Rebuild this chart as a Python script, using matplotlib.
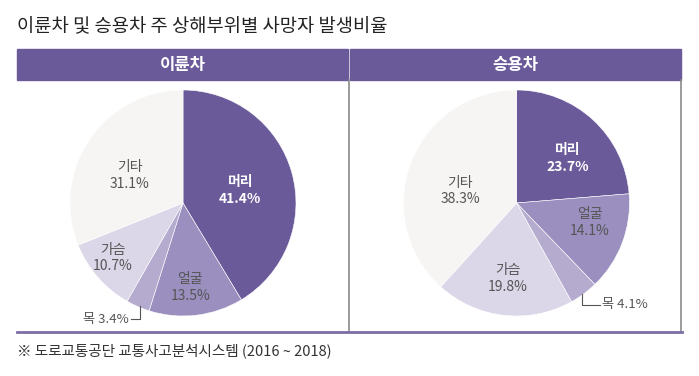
#!/usr/bin/env python3
"""Pie charts: fatal injury body region share, motorcycles vs passenger cars"""

import numpy as np
import matplotlib.pyplot as plt
from matplotlib.patches import Rectangle
from matplotlib.lines import Line2D

plt.rcParams['font.family'] = ['Noto Sans CJK KR', 'DejaVu Sans']

W, H = 699, 376

parts = ['머리', '얼굴', '목', '가슴', '기타']
moto_values = [41.4, 13.5, 3.4, 10.7, 31.1]
car_values = [23.7, 14.1, 4.1, 19.8, 38.3]
panel_titles = ['이륜차', '승용차']

colors = ['#6b5a9a', '#9a8fbe', '#b4abcf', '#dbd7e8', '#f6f5f3']
purple = '#6b5a9a'
text_gray = '#555555'


def px(x, y):
    """pixel (from top-left) to figure fraction"""
    return x / W, 1 - y / H


def draw_pie(fig, cx, cy, values, label_r, label_dang, neck):
    r = 113
    x0, y1 = px(cx - r, cy + r)
    ax = fig.add_axes([x0, y1, 2 * r / W, 2 * r / H])
    wedges, _ = ax.pie(values, colors=colors, startangle=90, counterclock=False,
                       radius=1, wedgeprops=dict(edgecolor='white', linewidth=0.4))
    ax.set_xlim(-1, 1)
    ax.set_ylim(-1, 1)
    ax.set_aspect('equal')
    ax.axis('off')

    for i, (w, name, val) in enumerate(zip(wedges, parts, values)):
        mid = np.deg2rad((w.theta1 + w.theta2) / 2 + label_dang[i])
        if name == '목':
            edge_x, edge_y = 0.99 * np.cos(mid), 0.99 * np.sin(mid)
            end_x, end_y, align = neck
            ax.add_line(Line2D([edge_x, edge_x, end_x], [edge_y, end_y, end_y],
                               color=text_gray, lw=0.8, clip_on=False))
            tx = end_x - 0.02 if align == 'right' else end_x + 0.02
            ax.text(tx, end_y, f'{name} {val}%', ha=align, va='center',
                    fontsize=9.5, color=text_gray, clip_on=False)
            continue
        lx, ly = label_r[i] * np.cos(mid), label_r[i] * np.sin(mid)
        if i == 0:
            col, wt = 'white', 'bold'
        else:
            col, wt = text_gray, 'normal'
        ax.text(lx, ly, f'{name}\n{val}%', ha='center', va='center', fontsize=10,
                color=col, fontweight=wt, linespacing=1.25)


def main():
    fig = plt.figure(figsize=(W / 100, H / 100), dpi=100)

    fig.text(*px(17, 27), '이륜차 및 승용차 주 상해부위별 사망자 발생비율',
             fontsize=13.5, color='#222222', va='center', ha='left')

    # header bars
    for (x_left, x_right), title in zip([(17, 348), (350, 681)], panel_titles):
        bx, by = px(x_left, 80)
        fig.patches.append(Rectangle((bx, by), (x_right - x_left) / W, 31 / H,
                                     transform=fig.transFigure, color=purple))
        fig.text(*px((x_left + x_right) / 2, 65), title, fontsize=12, color='white',
                 fontweight='bold', ha='center', va='center')

    # panel borders
    for xv in (348.5, 681):
        fig.lines.append(Line2D([xv / W, xv / W], [1 - 80 / H, 1 - 331 / H],
                                transform=fig.transFigure, color='#8a8a8a', lw=1.2))
    fig.lines.append(Line2D([17 / W, 682 / W], [1 - 331.5 / H, 1 - 331.5 / H],
                            transform=fig.transFigure, color='#7b6ea6', lw=2))

    draw_pie(fig, 183, 203, moto_values,
             label_r=[0.52, 0.75, 0, 0.79, 0.53], label_dang=[-3, -2, 1, -3, 7],
             neck=(-0.46, -1.03, 'right'))
    draw_pie(fig, 516.5, 203, car_values,
             label_r=[0.6, 0.67, 0, 0.67, 0.51], label_dang=[-6, 6, -1, 0, 9],
             neck=(0.74, -0.9, 'left'))

    fig.text(*px(17, 351), '※ 도로교통공단 교통사고분석시스템 (2016 ~ 2018)',
             fontsize=10.5, color='#333333', ha='left', va='center')

    fig.savefig('out.png', dpi=100, facecolor='white')


if __name__ == '__main__':
    main()
